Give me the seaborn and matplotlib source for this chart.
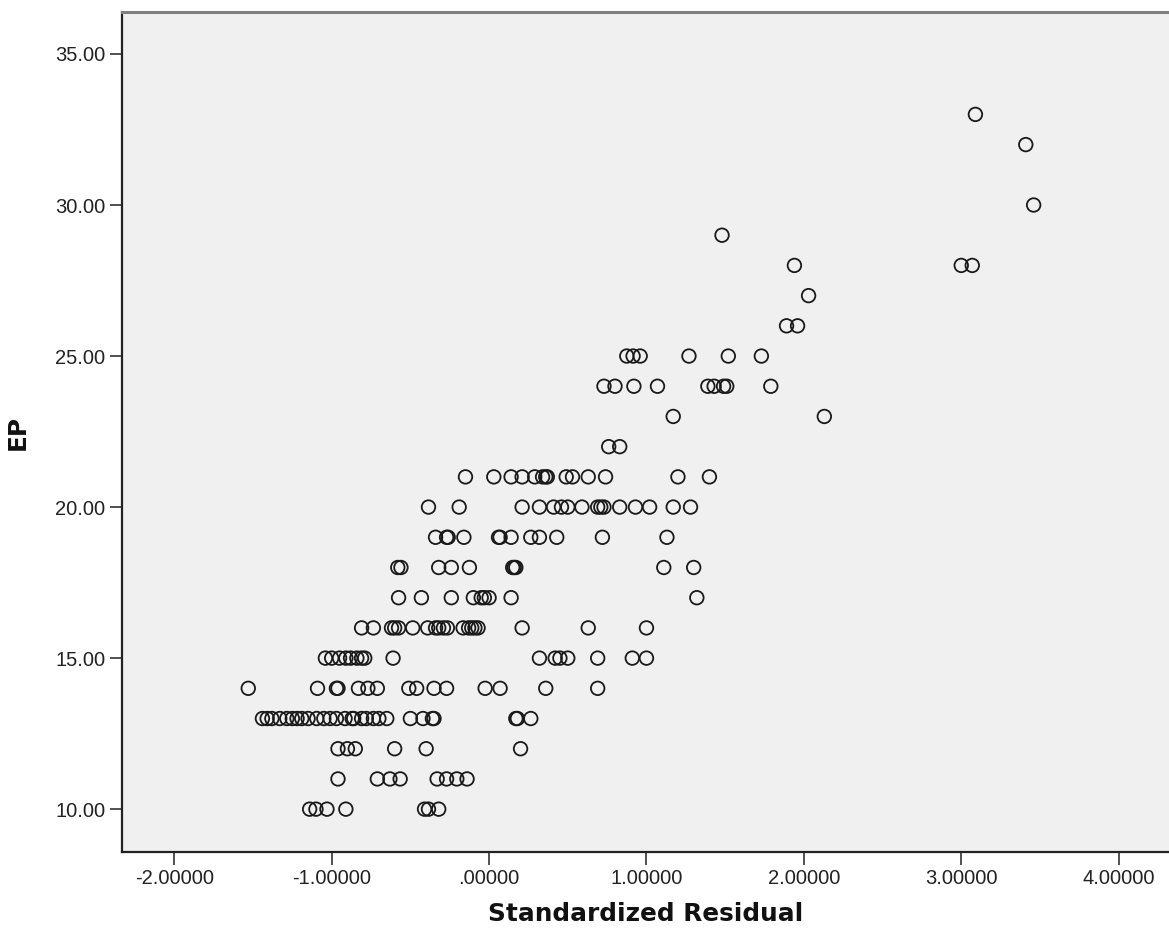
import numpy as np
import pandas as pd
import seaborn as sns
import matplotlib.pyplot as plt
from matplotlib.ticker import FuncFormatter

# standardized residual vs EP
ep = (
    [33, 32, 30, 29, 28, 28, 28, 27, 26, 26]
    + [25] * 6 + [24] * 9 + [23] * 2 + [22] * 2 + [21] * 14 + [20] * 16
    + [19] * 12 + [18] * 10 + [17] * 9 + [16] * 19 + [15] * 16 + [14] * 15
    + [13] * 28 + [12] * 6 + [11] * 8 + [10] * 7
)
std_resid = [
    3.09, 3.41, 3.46, 1.48, 1.94, 3.00, 3.07, 2.03, 1.89, 1.96,
    # 25
    0.875, 0.915, 0.96, 1.27, 1.52, 1.73,
    # 24
    0.73, 0.80, 0.92, 1.07, 1.39, 1.43, 1.49, 1.51, 1.79,
    # 23, 22
    1.17, 2.13, 0.76, 0.83,
    # 21
    -0.15, 0.03, 0.14, 0.21, 0.29, 0.34, 0.36, 0.37, 0.49, 0.53, 0.63, 0.74, 1.20, 1.40,
    # 20
    -0.385, -0.19, 0.21, 0.32, 0.41, 0.46, 0.50, 0.59, 0.69, 0.71, 0.73, 0.83, 0.93, 1.02,
    1.17, 1.28,
    # 19
    -0.34, -0.27, -0.26, -0.16, 0.06, 0.07, 0.14, 0.265, 0.32, 0.43, 0.72, 1.13,
    # 18
    -0.58, -0.56, -0.32, -0.24, -0.125, 0.15, 0.16, 0.17, 1.11, 1.30,
    # 17
    -0.575, -0.43, -0.24, -0.10, -0.05, -0.03, 0.0, 0.14, 1.32,
    # 16
    -0.81, -0.735, -0.62, -0.60, -0.575, -0.485, -0.39, -0.34, -0.32, -0.29, -0.265,
    -0.165, -0.13, -0.11, -0.09, -0.07, 0.21, 0.63, 1.00,
    # 15
    -1.04, -1.00, -0.95, -0.91, -0.88, -0.84, -0.81, -0.79, -0.61, 0.32, 0.42, 0.45,
    0.50, 0.69, 0.91, 1.00,
    # 14
    -1.53, -1.09, -0.97, -0.96, -0.83, -0.77, -0.71, -0.51, -0.46, -0.35, -0.27,
    -0.025, 0.07, 0.36, 0.69,
    # 13
    -1.44, -1.41, -1.38, -1.33, -1.285, -1.25, -1.22, -1.19, -1.15, -1.095, -1.05,
    -1.01, -0.97, -0.915, -0.87, -0.86, -0.81, -0.78, -0.735, -0.70, -0.65, -0.50,
    -0.42, -0.36, -0.35, 0.17, 0.18, 0.265,
    # 12
    -0.96, -0.90, -0.85, -0.60, -0.40, 0.20,
    # 11
    -0.96, -0.71, -0.63, -0.565, -0.33, -0.27, -0.205, -0.14,
    # 10
    -1.14, -1.10, -1.03, -0.91, -0.41, -0.385, -0.32,
]
x_ticks = [-2, -1, 0, 1, 2, 3, 4]
y_ticks = [10, 15, 20, 25, 30, 35]

df = pd.DataFrame({'Standardized Residual': std_resid, 'EP': ep})

sns.set_style('white')
plt.rcParams['font.family'] = ['Liberation Sans', 'DejaVu Sans']
plt.rcParams['axes.unicode_minus'] = False

fig = plt.figure(figsize=(11.69, 9.36), dpi=100)
ax = fig.add_axes([0.1044, 0.0897, 0.8956, 0.8975])
ax.set_facecolor('#f0f0f0')

sns.scatterplot(data=df, x='Standardized Residual', y='EP', ax=ax,
                marker='o', s=95, facecolors='none', edgecolor='#1a1a1a',
                linewidth=1.3)

ax.set_xlim(-2.332, 4.32)
ax.set_ylim(8.58, 36.39)
ax.set_xticks(x_ticks)
ax.set_yticks(y_ticks)


def fmt_x(v, pos):
    s = f'{v:.5f}'
    if s.startswith('0'):
        s = s[1:]
    elif s.startswith('-0'):
        s = '-' + s[2:]
    return s


ax.xaxis.set_major_formatter(FuncFormatter(fmt_x))
ax.yaxis.set_major_formatter(FuncFormatter(lambda v, p: f'{v:.2f}'))
ax.tick_params(axis='both', direction='out', length=9, width=1.1,
               color='#222222', labelsize=14.5, pad=3, labelcolor='#222222')
ax.tick_params(bottom=True, left=True)

for side in ['left', 'bottom']:
    ax.spines[side].set_color('#222222')
    ax.spines[side].set_linewidth(1.6)
ax.spines['top'].set_color('#808080')
ax.spines['top'].set_linewidth(2.2)
ax.spines['right'].set_visible(False)

ax.set_xlabel('Standardized Residual', fontsize=17.8, fontweight='bold',
              family='DejaVu Sans', labelpad=10, color='#111111')
ax.set_ylabel('EP', fontsize=17.8, fontweight='bold', family='DejaVu Sans',
              labelpad=18, color='#111111')

fig.savefig('out.png', dpi=100)
